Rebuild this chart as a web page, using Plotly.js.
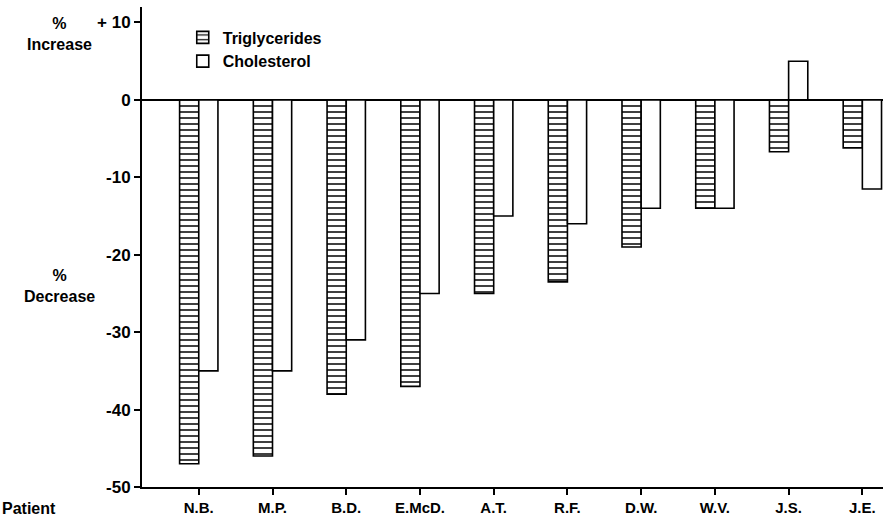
<!DOCTYPE html>
<html><head><meta charset="utf-8">
<script src="https://cdn.plot.ly/plotly-3.0.1.min.js"></script>
<style>html,body{margin:0;padding:0;background:#fff}#c{width:883px;height:520px}</style>
</head><body><div id="c"></div>
<script>
const patients = ["N.B.", "M.P.", "B.D.", "E.McD.", "A.T.", "R.F.", "D.W.", "W.V.", "J.S.", "J.E."];
const triglycerides = [-47, -46, -38, -37, -25, -23.5, -19, -14, -6.7, -6.2];
const cholesterol = [-35, -35, -31, -25, -15, -16, -14, -14, 5, -11.5];
const yTickVals = [10, 0, -10, -20, -30, -40, -50];
const yTickText = ["+ 10", "0", "-10", "-20", "-30", "-40", "-50"];

const F = "Liberation Sans, Arial, sans-serif";
const traces = [
  {type: "bar", name: "Triglycerides", x: patients, y: triglycerides,
   marker: {color: "#fff", line: {color: "#000", width: 1.6},
            pattern: {shape: "-", fgcolor: "#000", bgcolor: "#fff", size: 6, solidity: 0.25}}},
  {type: "bar", name: "Cholesterol", x: patients, y: cholesterol,
   marker: {color: "#fff", line: {color: "#000", width: 1.6}}}
];
const layout = {
  width: 883, height: 520,
  margin: {l: 142, r: 0, t: 7, b: 33},
  paper_bgcolor: "#fff", plot_bgcolor: "#fff",
  barmode: "group", bargap: 0.48, bargroupgap: 0,
  showlegend: true,
  legend: {x: 0.055, y: 0.972, xanchor: "left", yanchor: "top", bgcolor: "rgba(0,0,0,0)",
           font: {family: F, size: 16, color: "#000", weight: "bold"}, tracegroupgap: 0, itemwidth: 30},
  xaxis: {type: "category", range: [-0.77, 9.28], showline: true, linecolor: "#000", linewidth: 2,
          ticks: "outside", ticklen: 6, tickwidth: 2, tickcolor: "#000", showgrid: false,
          tickfont: {family: F, size: 15, color: "#000", weight: "bold"}},
  yaxis: {range: [-50, 12], showline: true, linecolor: "#000", linewidth: 2,
          ticks: "outside", ticklen: 6, tickwidth: 2, tickcolor: "#000", showgrid: false,
          tickvals: yTickVals, ticktext: yTickText,
          zeroline: true, zerolinecolor: "#000", zerolinewidth: 2,
          tickfont: {family: F, size: 17, color: "#000", weight: "bold"}},
  annotations: [
    {text: "%<br>Increase", xref: "paper", yref: "paper", x: -0.111, y: 0.943, xanchor: "center", yanchor: "middle",
     showarrow: false, font: {family: F, size: 16, color: "#000", weight: "bold"}},
    {text: "%<br>Decrease", xref: "paper", yref: "paper", x: -0.111, y: 0.418, xanchor: "center", yanchor: "middle",
     showarrow: false, font: {family: F, size: 16, color: "#000", weight: "bold"}},
    {text: "Patient", xref: "paper", yref: "paper", x: -0.192, y: -0.045, xanchor: "left", yanchor: "middle",
     showarrow: false, font: {family: F, size: 16, color: "#000", weight: "bold"}}
  ]
};
Plotly.newPlot("c", traces, layout, {displayModeBar: false, staticPlot: true});
</script></body></html>
